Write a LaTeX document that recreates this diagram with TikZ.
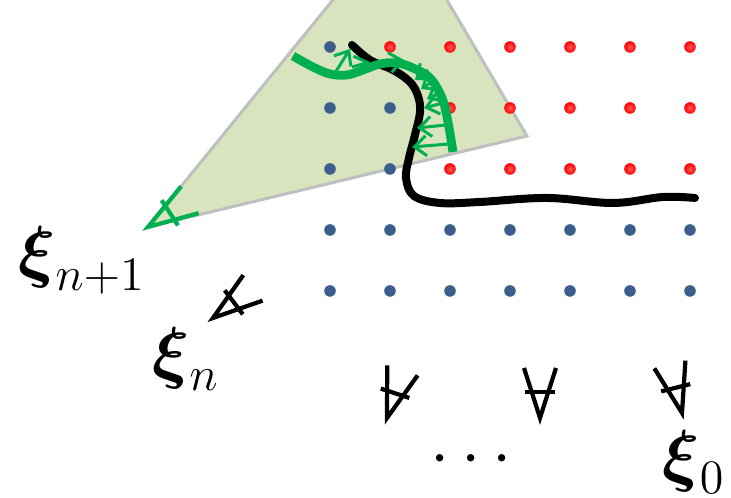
\documentclass[tikz,border=0pt]{standalone}
\usepackage{amsmath}
\usepackage{amssymb}
\usepackage{tikz}
\usepackage{xcolor}
\usetikzlibrary{arrows.meta}

\definecolor{dotblue}{RGB}{59,94,140}
\definecolor{conefill}{RGB}{215,228,189}
\definecolor{coneedge}{RGB}{191,191,191}
\definecolor{fieldgreen}{RGB}{0,176,80}

\begin{document}
\begin{tikzpicture}[x=0.25pt,y=-0.25pt,
  dot/.style={circle,inner sep=0pt,minimum size=2.9pt},
  hotdot/.style={dot,inner color=red!65!white,outer color=red},
  colddot/.style={dot,fill=dotblue},
  lbl/.style={inner sep=0pt,font=\LARGE},
  curve/.style={line width=2pt,line cap=round},
  field/.style={fieldgreen,line width=0.75pt,-{Straight Barb[length=3pt,width=5pt]}},
  conemark/.pic={\draw[line width=1.05pt] (-16,-50)--(0,0)--(16,-50); \draw[line width=1.05pt] (-15,-26)--(15,-26);}]
  \useasboundingbox (0,0) rectangle (731,498);
  % cone
  \filldraw[fill=conefill,draw=coneedge,line width=0.75pt] (148,227) -- (341,-10) -- (441,-10) -- (527,136) -- cycle;
  % lattice
  \foreach \x [count=\c] in {330,390,450,510,570,630,690}
    \foreach \y [count=\r] in {47,108,169,230,291}{
      \pgfmathtruncatemacro\hot{((\r==1 && \c>1) || (\r<4 && \r>1 && \c>2)) ? 1 : 0}
      \ifnum\hot=1 \def\dotsty{hotdot}\else\def\dotsty{colddot}\fi
      \node[\dotsty] (p\r\c) at (\x,\y) {};
    }
  % curves
  \draw[curve] plot[smooth,tension=0.6] coordinates {(352,45) (370,60) (393,70) (410,82) (418,96) (420,112) (415,135) (409,158) (406,178) (414,196) (440,203) (480,202) (547,198) (613,203) (663,197) (695,198)};
  \draw[curve,fieldgreen,line width=2.2pt,line cap=butt] plot[smooth,tension=0.6] coordinates {(293,56) (313,67) (330,74) (347,75) (363,70) (380,64) (397,63) (413,68) (430,78) (442,98) (448,122) (453,152)};
  \draw[field] (335,73) -- (350,49);
  \draw[field] (352,67) -- (370,62);
  \draw[field] (388,63) -- (404,60);
  \draw[field] (428,70) -- (415,80);
  \draw[field] (435,80) -- (421,89);
  \draw[field] (441,92) -- (427,99);
  \draw[field] (443,103) -- (424,108);
  \draw[field] (446,125) -- (417,128);
  \draw[field] (449,144) -- (412,147);
  % cone marks
  \path (148,227) pic[fieldgreen,rotate=-57] {conemark};
  \path (213,318) pic[rotate=-53] {conemark};
  \path (387,418) pic[rotate=-18] {conemark};
  \path (540,418) pic {conemark};
  \path (682,413) pic[rotate=14] {conemark};
  % labels
  \node[lbl] (xn1) at (82,260) {$\boldsymbol{\xi}_{n+1}$};
  \node[lbl] (xn) at (186,359) {$\boldsymbol{\xi}_{n}$};
  \node[lbl] (xdots) at (477,460) {$\cdots$};
  \node[lbl] (x0) at (694,462) {$\boldsymbol{\xi}_{0}$};
\end{tikzpicture}
\end{document}
